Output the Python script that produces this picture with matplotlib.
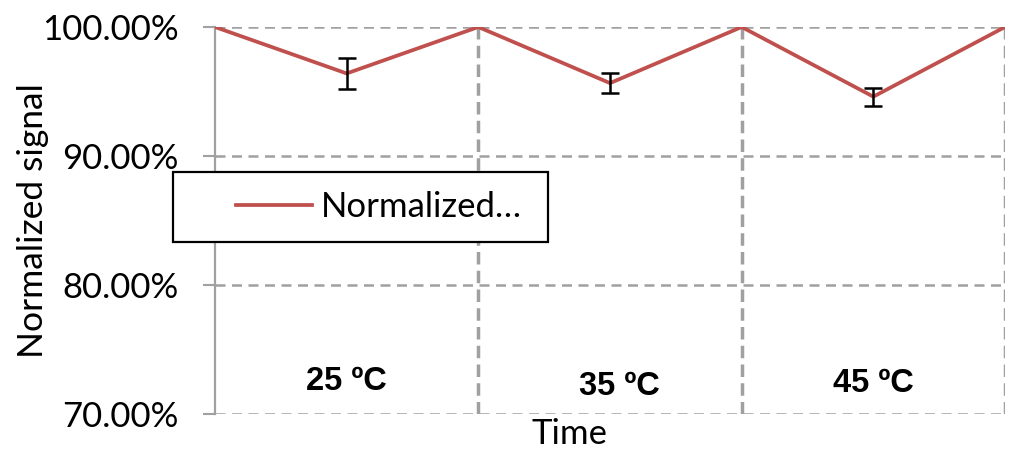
import matplotlib.pyplot as plt
import numpy as np
from matplotlib.patches import Rectangle
from matplotlib.ticker import FuncFormatter

# normalized signal (%) over time, three temperature steps
time_idx = [0, 1, 2, 3, 4, 5, 6]
signal = [100.0, 96.4, 100.0, 95.65, 100.0, 94.6, 100.0]
signal_err = [0.0, 1.2, 0.0, 0.75, 0.0, 0.7, 0.0]

temp_labels = ["25 ºC", "35 ºC", "45 ºC"]
temp_x = [1.0, 3.07, 5.0]
temp_y = [72.5, 72.1, 72.4]

grid_x = [0, 2, 4, 6]
y_ticks = [70, 80, 90, 100]

plt.rcParams['font.family'] = ['Lato', 'DejaVu Sans']

grey = '#A0A0A0'
red = '#C0504D'

fig = plt.figure(figsize=(10.24, 4.61), dpi=100)
ax = fig.add_axes([215 / 1024, 1 - 414 / 461, 790 / 1024, 387 / 461])

# grid lines (dashed) drawn manually so horizontal / vertical can differ
for y in y_ticks:
    ax.axhline(y, color=grey, lw=1.8, ls=(0, (4.0, 2.6)), zorder=1)
for x in grid_x[1:]:
    ax.axvline(x, color=grey, lw=2.5, ls=(0, (3.6, 1.8)), zorder=1)

ax.plot(time_idx, signal, color=red, lw=2.7, zorder=3, label="Normalized…")
err_x = [t for t, e in zip(time_idx, signal_err) if e > 0]
err_y = [s for s, e in zip(signal, signal_err) if e > 0]
err_e = [e for e in signal_err if e > 0]
ax.errorbar(err_x, err_y, yerr=err_e, fmt='none', ecolor='black',
            elinewidth=1.8, capsize=6.5, capthick=1.8, zorder=4)

for lab, x, y in zip(temp_labels, temp_x, temp_y):
    ax.text(x, y, lab, ha='center', va='center', fontsize=23.5, fontweight='bold',
            family=['Liberation Sans Narrow', 'Liberation Sans', 'DejaVu Sans'], zorder=5)

ax.set_xlim(0, 6)
ax.set_ylim(70, 100)
ax.set_xticks([])
ax.set_yticks(y_ticks)
ax.yaxis.set_major_formatter(FuncFormatter(lambda v, p: "%.2f%%" % v))
ax.tick_params(axis='y', direction='out', length=9, width=1.5, color=grey,
               labelsize=25, pad=17)

for s in ['top', 'right', 'bottom']:
    ax.spines[s].set_visible(False)
ax.spines['left'].set_color(grey)
ax.spines['left'].set_linewidth(1.6)
ax.spines['left'].set_zorder(2)

ax.set_ylabel("Normalized signal", fontsize=25.5)
ax.yaxis.set_label_coords(-0.21, 0.5)
ax.set_xlabel("Time", fontsize=25)
ax.xaxis.set_label_coords(0.449, -0.01)

# legend box
frame = Rectangle((-0.0532, 0.4444), 0.4747, 0.1809, transform=ax.transAxes,
                  facecolor='white', edgecolor='black', lw=1.6, clip_on=False, zorder=6)
ax.add_patch(frame)
leg = ax.legend(loc='center left', bbox_to_anchor=(0.0266, 0.535), frameon=False,
                fontsize=25, borderpad=0, borderaxespad=0, handlelength=2.2,
                handletextpad=0.25)
leg.set_zorder(7)

fig.savefig('out.png', dpi=100)
